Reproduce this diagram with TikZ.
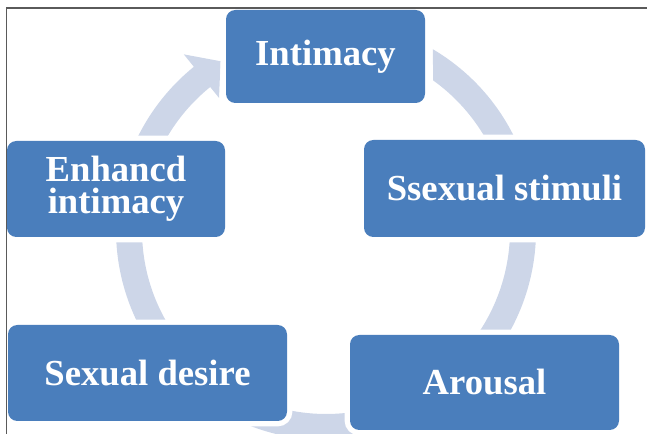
\documentclass[tikz,border=0pt]{standalone}
\usepackage{fontspec}
\setmainfont{Liberation Serif}
\usetikzlibrary{calc}
\definecolor{boxblue}{HTML}{4A7EBC}
\definecolor{ringblue}{HTML}{CDD6E8}
\definecolor{framegray}{HTML}{5A5A5A}
\tikzset{
  stagebox/.style={fill=boxblue, rounded corners=7pt, inner sep=0pt,
    preaction={draw=white, line width=8pt, rounded corners=7pt},
    text=white, align=center,
    font=\fontsize{27.5}{24}\selectfont\bfseries},
  ringshape/.style={fill=ringblue},
  framestyle/.style={draw=framegray, line width=1pt}
}
\begin{document}
\begin{tikzpicture}[x=0.75pt,y=0.75pt]
\useasboundingbox (0,0) rectangle (647,434);
\coordinate (C) at (326,204);
% cycle ring with arrowhead
\fill[ringshape] ($(C)+(54.4:184)$) -- ($(C)+(59.4:210)$)
  arc[start angle=59.4, end angle=-231, radius=210]
  -- ($(C)+(129:226)$) -- ($(C)+(122:199)$) -- ($(C)+(129:170)$)
  -- ($(C)+(129:184)$)
  arc[start angle=129, end angle=414.4, radius=184] -- cycle;
% stages
\node[stagebox, minimum width=149.25pt, minimum height=69.75pt] (intimacy) at (325.5,377.5) {Intimacy};
\node[stagebox, minimum width=210.75pt, minimum height=72.75pt] (stimuli) at (504.5,245.5) {Ssexual stimuli};
\node[stagebox, minimum width=201.75pt, minimum height=71.25pt] (arousal) at (484.5,51.5) {Arousal};
\node[stagebox, minimum width=209.25pt, minimum height=72pt] (desire) at (147.5,61) {Sexual desire};
\node[stagebox, minimum width=163.5pt, minimum height=72pt] (enhanced) at (116,245) {Enhancd\\intimacy};
% frame
\draw[framestyle] (6.5,0) -- (6.5,426) -- (647,426);
\end{tikzpicture}
\end{document}
